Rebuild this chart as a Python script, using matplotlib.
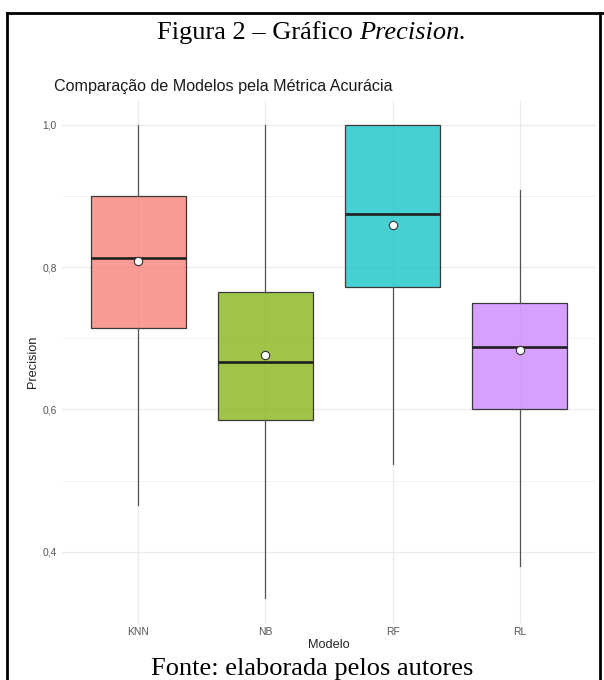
import matplotlib
matplotlib.use("Agg")
import matplotlib.pyplot as plt
from matplotlib.lines import Line2D

# Summary statistics of precision per model
models = ["KNN", "NB", "RF", "RL"]
q1 = [0.714, 0.585, 0.772, 0.600]
median = [0.813, 0.667, 0.875, 0.687]
q3 = [0.900, 0.765, 1.000, 0.750]
whisker_low = [0.466, 0.335, 0.524, 0.380]
whisker_high = [1.000, 1.000, 1.000, 0.908]
mean = [0.808, 0.676, 0.859, 0.684]

fill_colors = ["#F8766D", "#7CAE00", "#00BFC4", "#C77CFF"]

y_ticks = [0.4, 0.6, 0.8, 1.0]
y_tick_labels = ["0,4", "0,6", "0,8", "1,0"]
y_minor = [0.3, 0.5, 0.7, 0.9]

W, H = 604, 680
fig = plt.figure(figsize=(W / 100, H / 100), dpi=100)
fig.patch.set_facecolor("white")

ax = fig.add_axes([62 / W, 1 - 623 / H, (596 - 62) / W, (623 - 101) / H])
ax.set_facecolor("white")

stats = []
for i, m in enumerate(models):
    stats.append(dict(label=m, q1=q1[i], med=median[i], q3=q3[i],
                      whislo=whisker_low[i], whishi=whisker_high[i],
                      mean=mean[i], fliers=[]))

pos = list(range(1, len(models) + 1))
bp = ax.bxp(stats, positions=pos, widths=0.75, patch_artist=True,
            showmeans=True, showcaps=False, showfliers=False,
            boxprops=dict(edgecolor="#3a3a3a", linewidth=0.9),
            whiskerprops=dict(color="#555555", linewidth=0.9),
            medianprops=dict(color="#1f1f1f", linewidth=1.9),
            meanprops=dict(marker="o", markerfacecolor="white",
                           markeredgecolor="#333333", markersize=6,
                           markeredgewidth=0.8),
            zorder=3)
for patch, c in zip(bp["boxes"], fill_colors):
    patch.set_facecolor(matplotlib.colors.to_rgba(c, 0.72))

# axis limits with ggplot-style expansion
lo, hi = min(whisker_low), max(whisker_high)
pad = (hi - lo) * 0.05
ax.set_ylim(lo - pad, hi + pad)
ax.set_xlim(0.4, len(models) + 0.6)

ax.set_yticks(y_ticks)
ax.set_yticklabels(y_tick_labels)
ax.set_yticks(y_minor, minor=True)
ax.set_xticks(pos)
ax.set_xticklabels(models)

ax.grid(True, which="major", color="#ebebeb", linewidth=0.9, zorder=0)
ax.grid(True, which="minor", axis="y", color="#f3f3f3", linewidth=0.7, zorder=0)
ax.set_axisbelow(True)
for s in ax.spines.values():
    s.set_visible(False)
ax.tick_params(axis="both", which="both", length=0, labelsize=7.4,
               labelcolor="#555555")
ax.tick_params(axis="y", pad=3.6)
ax.tick_params(axis="x", pad=2.6)
for t in ax.get_xticklabels() + ax.get_yticklabels():
    t.set_fontfamily("Liberation Sans")

ax.set_xlabel("Modelo", fontsize=9.2, family="Liberation Sans",
              color="#222222", labelpad=1.5)
ax.set_ylabel("Precision", fontsize=9.2, family="Liberation Sans",
              color="#222222", labelpad=2.5)

fig.text(54 / W, 1 - 87 / H, "Comparação de Modelos pela Métrica Acurácia",
         fontsize=11.6, family="Liberation Sans", color="#1a1a1a",
         ha="left", va="center")

# Figure caption: regular text followed by italic term
fig.canvas.draw()
renderer = fig.canvas.get_renderer()
cap1 = fig.text(0, 1 - 39 / H, "Figura 2 – Gráfico ", fontsize=19,
                family="Liberation Serif", color="black",
                ha="left", va="baseline")
cap2 = fig.text(0, 1 - 39 / H, "Precision.", fontsize=19,
                family="Liberation Serif", style="italic", color="black",
                ha="left", va="baseline")
w1 = cap1.get_window_extent(renderer).width
x0 = 157
cap1.set_x(x0 / W)
cap2.set_x((x0 + w1) / W)

fig.text(151 / W, 1 - 675 / H, "Fonte: elaborada pelos autores", fontsize=19,
         family="Liberation Serif", color="black", ha="left", va="baseline")

# Frame around the figure
lw = 2.0
fig.add_artist(Line2D([6.7 / W, 1.0], [1 - 13 / H, 1 - 13 / H],
                      transform=fig.transFigure, color="black", linewidth=lw))
fig.add_artist(Line2D([6.7 / W, 6.7 / W], [1 - 13 / H, 0],
                      transform=fig.transFigure, color="black", linewidth=lw))
fig.add_artist(Line2D([600 / W, 600 / W], [1 - 13 / H, 0],
                      transform=fig.transFigure, color="black", linewidth=lw))

fig.savefig("out.png", dpi=100, facecolor="white")
